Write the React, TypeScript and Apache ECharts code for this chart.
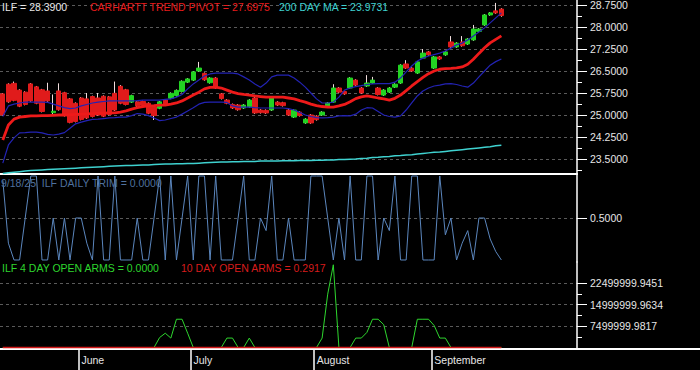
import React, { useEffect, useRef } from "react";
import * as echarts from "echarts";

const FONT = "'Liberation Sans', Arial, Helvetica, sans-serif";

const dates = [
  "2025-05-12","2025-05-13","2025-05-14","2025-05-15","2025-05-16","2025-05-19","2025-05-20","2025-05-21","2025-05-22","2025-05-23",
  "2025-05-27","2025-05-28","2025-05-29","2025-05-30",
  "2025-06-02","2025-06-03","2025-06-04","2025-06-05","2025-06-06","2025-06-09","2025-06-10","2025-06-11","2025-06-12","2025-06-13",
  "2025-06-16","2025-06-17","2025-06-18","2025-06-20","2025-06-23","2025-06-24","2025-06-25","2025-06-26","2025-06-27","2025-06-30",
  "2025-07-01","2025-07-02","2025-07-03","2025-07-07","2025-07-08","2025-07-09","2025-07-10","2025-07-11","2025-07-14","2025-07-15",
  "2025-07-16","2025-07-17","2025-07-18","2025-07-21","2025-07-22","2025-07-23","2025-07-24","2025-07-25","2025-07-28","2025-07-29",
  "2025-07-30","2025-07-31",
  "2025-08-01","2025-08-04","2025-08-05","2025-08-06","2025-08-07","2025-08-08","2025-08-11","2025-08-12","2025-08-13","2025-08-14",
  "2025-08-15","2025-08-18","2025-08-19","2025-08-20","2025-08-21","2025-08-22","2025-08-25","2025-08-26","2025-08-27","2025-08-28",
  "2025-08-29",
  "2025-09-02","2025-09-03","2025-09-04","2025-09-05","2025-09-08","2025-09-09","2025-09-10","2025-09-11","2025-09-12","2025-09-15",
  "2025-09-16","2025-09-17","2025-09-18",
];

const opens = [
  25.72,26.05,26.08,25.85,25.78,26.06,25.96,25.86,25.82,25.08,
  25.82,25.76,25.55,25.40,25.58,25.55,25.63,25.58,25.64,25.62,
  25.74,25.98,25.86,25.44,25.45,25.46,25.40,25.28,25.23,25.51,
  25.57,25.66,25.80,26.12,26.19,26.50,26.42,26.10,26.26,25.72,
  25.51,25.36,25.34,25.24,25.28,25.58,25.17,25.16,25.17,25.44,
  25.42,25.17,24.93,25.10,24.73,25.00,24.96,25.00,25.27,25.44,
  25.92,25.80,25.92,26.19,25.92,25.99,26.09,25.92,25.68,25.78,
  25.95,26.09,26.74,26.60,26.43,26.94,27.15,26.60,26.98,27.05,
  27.49,27.32,27.49,27.42,27.56,27.85,28.07,28.41,28.55,28.61,
];
const closes = [
  25.00,25.45,25.50,25.30,25.36,25.48,25.40,25.12,25.48,25.13,
  25.18,24.98,24.75,24.78,24.85,24.90,24.95,25.00,24.96,25.02,
  25.17,25.40,25.36,25.66,25.31,25.33,25.06,24.98,25.45,25.34,
  25.74,25.84,26.15,26.23,26.47,26.60,26.20,26.26,25.92,25.56,
  25.40,25.24,25.18,25.34,25.51,25.07,25.08,25.07,25.61,25.34,
  25.32,25.00,25.17,24.98,24.86,24.73,24.84,25.10,25.41,25.92,
  25.78,25.72,26.26,26.02,25.75,26.09,26.19,25.70,25.85,25.92,
  26.05,26.70,26.60,26.50,26.81,27.11,27.05,26.98,26.91,27.15,
  27.32,27.45,27.36,27.59,27.93,27.93,28.41,28.48,28.48,28.39,
];
const highs = [
  25.75,26.08,26.14,25.88,25.81,26.09,25.99,25.89,26.10,25.70,
  26.08,25.79,25.58,25.43,25.61,25.75,25.66,25.75,25.67,25.65,
  26.14,26.02,25.89,25.69,25.48,25.49,25.43,25.31,25.48,25.54,
  25.77,25.87,26.18,26.26,26.50,26.81,26.45,26.29,26.29,25.75,
  25.54,25.39,25.37,25.37,25.54,25.61,25.20,25.19,25.64,25.47,
  25.45,25.20,25.20,25.13,24.89,25.03,24.99,25.13,25.44,26.05,
  25.95,25.83,26.29,26.22,25.95,26.36,26.30,25.95,25.88,25.95,
  26.08,26.73,26.87,26.63,26.84,27.25,27.18,27.01,27.01,27.18,
  27.69,27.48,27.69,27.62,28.07,27.96,28.44,28.51,28.82,28.64,
];
const lows = [
  24.97,25.42,25.47,25.27,25.33,25.45,25.37,25.09,25.45,25.00,
  25.15,24.95,24.72,24.75,24.82,24.87,24.92,24.97,24.93,24.99,
  25.14,25.37,25.33,25.41,25.28,25.30,25.03,24.83,25.20,25.31,
  25.54,25.63,25.77,26.09,26.16,26.47,26.17,26.07,25.89,25.53,
  25.37,25.21,25.15,25.21,25.25,25.04,25.05,25.04,25.14,25.31,
  25.29,24.97,24.90,24.95,24.70,24.70,24.81,24.97,25.24,25.41,
  25.75,25.69,25.89,25.99,25.72,25.96,26.06,25.67,25.65,25.75,
  25.92,26.06,26.57,26.47,26.40,26.91,27.02,26.57,26.88,27.02,
  27.29,27.29,27.33,27.39,27.53,27.82,28.04,28.38,28.45,28.35,
];

const trendPivot = [
  24.15,24.66,24.86,24.93,24.95,24.97,24.97,24.98,24.98,24.99,
  25.00,25.00,25.01,25.02,25.03,25.04,25.05,25.06,25.06,25.07,
  25.07,25.10,25.14,25.20,25.25,25.29,25.31,25.32,25.34,25.34,
  25.37,25.41,25.48,25.58,25.68,25.78,25.89,25.94,25.95,25.92,
  25.85,25.78,25.73,25.70,25.68,25.65,25.63,25.61,25.61,25.61,
  25.61,25.58,25.55,25.49,25.44,25.37,25.32,25.29,25.27,25.27,
  25.31,25.36,25.45,25.56,25.62,25.65,25.62,25.58,25.55,25.51,
  25.57,25.68,25.83,25.99,26.14,26.28,26.41,26.50,26.56,26.58,
  26.59,26.61,26.64,26.73,26.90,27.10,27.29,27.46,27.58,27.6975,
];
const upperBand = [
  24.95,25.31,25.37,25.41,25.44,25.44,25.44,25.44,25.43,25.37,
  25.31,25.25,25.22,25.24,25.31,25.36,25.41,25.44,25.46,25.48,
  25.48,25.48,25.48,25.48,25.49,25.51,25.51,25.51,25.51,25.53,
  25.55,25.61,25.70,25.89,26.06,26.19,26.33,26.40,26.43,26.43,
  26.43,26.43,26.40,26.30,26.19,26.06,25.95,26.09,26.30,26.36,
  26.36,26.36,26.26,26.12,25.95,25.75,25.55,25.41,25.41,25.44,
  25.61,25.85,25.92,25.97,26.00,26.04,26.06,26.07,26.07,26.07,
  26.12,26.26,26.47,26.67,26.84,26.94,27.01,27.06,27.11,27.18,
  27.28,27.39,27.45,27.56,27.69,27.83,27.97,28.14,28.31,28.48,
];
const lowerBand = [
  23.36,23.98,24.22,24.39,24.40,24.42,24.42,24.39,24.34,24.32,
  24.35,24.40,24.55,24.70,24.76,24.81,24.85,24.86,24.88,24.90,
  24.91,24.93,24.93,24.98,25.05,25.03,24.98,24.90,24.81,24.83,
  24.88,24.93,25.03,25.14,25.25,25.37,25.43,25.44,25.44,25.44,
  25.43,25.31,25.27,25.27,25.27,25.25,25.24,25.24,25.24,25.24,
  25.24,25.22,25.17,25.09,25.00,24.95,24.91,24.90,24.91,24.93,
  24.97,24.98,24.97,25.03,25.17,25.25,25.24,25.12,25.00,24.95,
  24.93,24.97,25.17,25.41,25.65,25.82,25.92,25.99,26.02,26.06,
  26.07,26.04,25.99,25.95,26.09,26.30,26.50,26.70,26.82,26.91,
];
const ma200 = [
  23.01,23.03,23.05,23.07,23.09,23.11,23.12,23.13,23.14,23.15,
  23.16,23.17,23.18,23.19,23.20,23.21,23.22,23.23,23.24,23.25,
  23.26,23.27,23.28,23.28,23.29,23.30,23.30,23.31,23.32,23.33,
  23.33,23.34,23.34,23.35,23.35,23.36,23.37,23.38,23.39,23.40,
  23.40,23.41,23.41,23.42,23.42,23.42,23.43,23.43,23.43,23.43,
  23.44,23.44,23.44,23.45,23.45,23.45,23.46,23.46,23.47,23.47,
  23.48,23.48,23.49,23.50,23.52,23.53,23.55,23.56,23.58,23.59,
  23.61,23.62,23.64,23.65,23.67,23.69,23.71,23.73,23.74,23.76,
  23.78,23.80,23.82,23.84,23.86,23.88,23.90,23.92,23.95,23.9731,
];

const dailyTrim = [
  0.95,0.2,0,0,0.5,1,1,0,0,0.5,
  0,0.5,0,0.5,0.5,0.2,0,1,0,0,
  1,0,0,0,0.5,0,0,0.5,1,0,
  1,0,0.5,1,0,1,1,0,1,0,
  0,0,0.5,1,0,0,0.5,0.35,1,0,
  0,0.5,0,0,0,1,1,1,0.5,0,
  0.5,0,1,0,0,1,1,0,0.5,0.35,
  1,0,0,1,1,0,0,0,1,0.3,
  0.5,0,0.2,0.35,0,0.5,0.5,0.25,0.1,0,
];

const openArms4 = [
  0,0,0,0,0,0,0,0,0,0,
  0,0,0,0,0,0,0,0,0,0,
  0,0,0,0,0,0,0,0,3.5e6,5.0e6,
  3.3e6,9.9e6,9.9e6,5.0e6,0,0,0,0,0,0,
  3.3e6,3.3e6,0,0,3.3e6,0,0,0,0,0,
  0,0,0,0,0,0,0,3.3e6,18.7e6,29.0e6,
  0,0,0,3.3e6,3.3e6,5.3e6,9.9e6,9.9e6,8.0e6,0,
  0,0,0,0,9.9e6,9.9e6,9.9e6,7.7e6,3.3e6,3.3e6,
  0,0,0,0,0,0,0,0,0,0,
];
const openArms10 = [
  0.41,0.38,0.35,0.33,0.36,0.40,0.44,0.47,0.45,0.42,
  0.39,0.37,0.34,0.32,0.35,0.38,0.41,0.43,0.40,0.37,
  0.35,0.33,0.36,0.39,0.42,0.45,0.43,0.40,0.38,0.41,
  0.44,0.46,0.43,0.40,0.37,0.35,0.38,0.41,0.39,0.36,
  0.34,0.37,0.40,0.42,0.39,0.36,0.33,0.31,0.34,0.37,
  0.40,0.38,0.35,0.33,0.36,0.39,0.42,0.44,0.41,0.38,
  0.36,0.34,0.37,0.40,0.43,0.41,0.38,0.35,0.33,0.31,
  0.34,0.37,0.39,0.36,0.34,0.32,0.35,0.38,0.40,0.37,
  0.35,0.33,0.31,0.30,0.32,0.34,0.33,0.31,0.30,0.2917,
];

const priceTicks = [23.5, 24.25, 25, 25.75, 26.5, 27.25, 28, 28.75];
const priceMinorTicks = [23.125, 23.875, 24.625, 25.375, 26.125, 26.875, 27.625, 28.375];
const trimTicks = [0.5];
const armsTicks = [7499999.9817, 14999999.9634, 22499999.9451];
const armsMinorTicks = [3749999.9908, 11249999.9725, 18749999.9542];
const monthNames = ["January","February","March","April","May","June","July","August","September","October","November","December"];

const PAD = 13;
const categories = [...dates, ...Array.from({ length: PAD }, (_, k) => `pad-${k}`)];
const monthOf = (d: string) => parseInt(d.slice(5, 7), 10);
const monthStarts = dates.map((_, i) => i).filter((i) => i > 0 && monthOf(dates[i]) !== monthOf(dates[i - 1]));

const W = 577;
const WHITE = "#ffffff";
const LABEL = "#e6e6e6";
const GRIDLINE = { show: true, lineStyle: { color: "#5a5a5a", type: [3, 3] as any, width: 1 } };

function buildOption() {
  const last = dates.length - 1;
  const wickData = opens.map((o, i) => [o, closes[i], lows[i], highs[i]]);
  const bodyData = opens.map((o, i) => [o, closes[i], Math.min(o, closes[i]), Math.max(o, closes[i])]);
  const lineSeries = (name: string, data: number[], color: string, width: number, xi: number, yi: number) => ({
    type: "line", name, data, xAxisIndex: xi, yAxisIndex: yi, symbol: "none", showSymbol: false,
    lineStyle: { color, width }, itemStyle: { color }, silent: true,
  });
  const txt = (text: string, x: number, y: number, fill: string) => ({
    type: "text", x, y, z: 100, silent: true,
    style: { text, fill, fontSize: 10.5, fontFamily: FONT, verticalAlign: "middle", align: "left" },
  });
  const catAxis = (gridIndex: number, showLine: boolean) => ({
    type: "category", gridIndex, data: categories, boundaryGap: true,
    axisLine: { show: showLine, onZero: false, lineStyle: { color: WHITE, width: 2 } },
    axisTick: { show: false }, axisLabel: { show: false }, splitLine: { show: false },
  });
  const valAxis = (gridIndex: number, min: number, max: number, ticks: number[], fmt: (v: number) => string) => ({
    type: "value", gridIndex, position: "right", min, max, scale: true,
    axisLine: { show: true, onZero: false, lineStyle: { color: WHITE, width: 1.5 } },
    axisTick: { show: true, customValues: ticks, length: 10, lineStyle: { color: WHITE, width: 1 } },
    axisLabel: { show: true, customValues: ticks, formatter: fmt, color: LABEL, fontSize: 10.5, fontFamily: FONT, margin: 13 },
    splitLine: GRIDLINE,
  });
  const minorAxis = (gridIndex: number, min: number, max: number, ticks: number[]) => ({
    type: "value", gridIndex, position: "right", min, max, scale: true,
    axisLine: { show: false, onZero: false },
    axisTick: { show: true, customValues: ticks, length: 5, lineStyle: { color: WHITE, width: 1 } },
    axisLabel: { show: false }, splitLine: { show: false },
  });
  const f4 = (v: number) => v.toFixed(4);

  return {
    animation: false,
    backgroundColor: "#000000",
    textStyle: { fontFamily: FONT },
    grid: [
      { left: 0, top: 0, width: W, height: 174, containLabel: false, outerBoundsMode: "none" },
      { left: 0, top: 174, width: W, height: 88, containLabel: false, outerBoundsMode: "none" },
      { left: 0, top: 262, width: W, height: 87, containLabel: false, outerBoundsMode: "none" },
    ],
    xAxis: [
      catAxis(0, true),
      catAxis(1, false),
      catAxis(2, false),
      {
        type: "value", gridIndex: 2, position: "bottom", min: 0, max: categories.length,
        axisLine: { show: true, onZero: false, lineStyle: { color: WHITE, width: 2 } },
        axisTick: { show: true, customValues: monthStarts, length: 21, lineStyle: { color: WHITE, width: 1.5 } },
        axisLabel: {
          show: true, customValues: monthStarts, color: LABEL, fontSize: 10.5, fontFamily: FONT,
          align: "left", margin: 5, padding: [0, 0, 0, 3],
          formatter: (v: number) => monthNames[monthOf(dates[Math.round(v)]) - 1],
        },
        splitLine: { show: false },
      },
    ],
    yAxis: [
      valAxis(0, 22.99, 28.92, priceTicks, f4),
      minorAxis(0, 22.99, 28.92, priceMinorTicks),
      valAxis(1, -0.024, 1.024, trimTicks, f4),
      valAxis(2, -0.53e6, 29.97e6, armsTicks, f4),
      minorAxis(2, -0.53e6, 29.97e6, armsMinorTicks),
    ],
    series: [
      {
        type: "candlestick", name: "wicks", data: wickData, xAxisIndex: 0, yAxisIndex: 0, barWidth: 1, silent: true,
        itemStyle: { color: "#f0dcdc", color0: "#f0dcdc", borderColor: "#f0dcdc", borderColor0: "#f0dcdc", borderWidth: 1 },
      },
      {
        type: "candlestick", name: "ILF", data: bodyData, xAxisIndex: 0, yAxisIndex: 0, barWidth: "86%", silent: true,
        itemStyle: { color: "#22d322", color0: "#e01b1b", borderColor: "#22d322", borderColor0: "#e01b1b", borderWidth: 1 },
      },
      lineSeries("upper", upperBand, "#2323b4", 1.2, 0, 0),
      lineSeries("lower", lowerBand, "#2323b4", 1.2, 0, 0),
      lineSeries("CARHARTT TREND PIVOT", trendPivot, "#ee1a1a", 2.8, 0, 0),
      lineSeries("200 DAY MA", ma200, "#3fd2d0", 1.5, 0, 0),
      lineSeries("ILF DAILY TRIM", dailyTrim, "#5b86bd", 1, 1, 2),
      lineSeries("ILF 4 DAY OPEN ARMS", openArms4, "#2ed62e", 1, 2, 3),
      lineSeries("10 DAY OPEN ARMS", openArms10, "#d01818", 1.6, 2, 3),
    ],
    graphic: [
      txt(`ILF = ${closes[last].toFixed(4)}`, 2, 7, "#e8e8e8"),
      txt(`CARHARTT TREND PIVOT = ${trendPivot[last].toFixed(4)}`, 90, 7, "#e81c1c"),
      txt(`200 DAY MA = ${ma200[last].toFixed(4)}`, 279, 7, "#3fd2d0"),
      txt(`9/18/25  ILF DAILY TRIM = ${dailyTrim[last].toFixed(4)}`, 1, 183, "#4f719e"),
      txt(`ILF 4 DAY OPEN ARMS = ${openArms4[last].toFixed(4)}`, 2, 268, "#2ed62e"),
      txt(`10 DAY OPEN ARMS = ${openArms10[last].toFixed(4)}`, 181, 268, "#d81c1c"),
      { type: "line", z: 50, silent: true, shape: { x1: W, y1: 349, x2: 700, y2: 349 }, style: { stroke: WHITE, lineWidth: 2 } },
    ],
  };
}

export default function App() {
  const ref = useRef<HTMLDivElement>(null);
  useEffect(() => {
    if (!ref.current) return;
    const chart = echarts.init(ref.current, null, { renderer: "svg" });
    chart.setOption(buildOption() as any);
    return () => chart.dispose();
  }, []);
  return (
    <div
      ref={ref}
      style={{ position: "fixed", left: 0, top: 0, width: 700, height: 370, background: "#000" }}
    />
  );
}
